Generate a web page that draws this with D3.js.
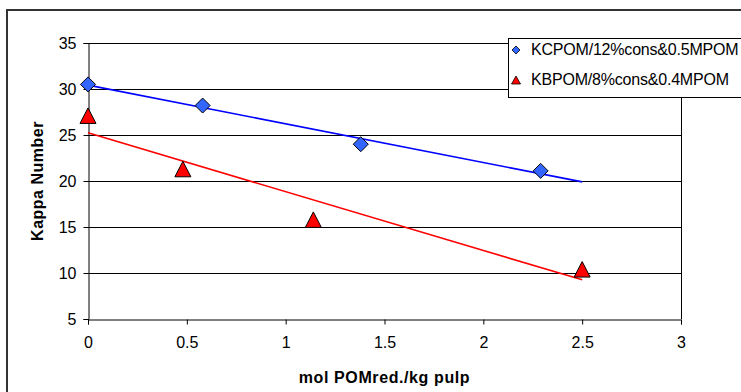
<!DOCTYPE html>
<html>
<head>
<meta charset="utf-8">
<script src="https://cdn.jsdelivr.net/npm/d3@7"></script>
<style>
	body { margin: 0; background: #fff; }
	svg { display: block; font-family: "Liberation Sans", Arial, sans-serif; }
</style>
</head>
<body>
<svg id="chart" width="741" height="392"></svg>
<script>
// data
var seriesNames = ["KCPOM/12%cons&0.5MPOM", "KBPOM/8%cons&0.4MPOM"];
var kcX = [0, 0.58, 1.38, 2.29];
var kcY = [30.5, 28.2, 24.0, 21.1];
var kbX = [0, 0.48, 1.14, 2.5];
var kbY = [27.1, 21.3, 15.8, 10.4];
var xTicks = [0, 0.5, 1, 1.5, 2, 2.5, 3];
var yTicks = [5, 10, 15, 20, 25, 30, 35];
var trendEnd = 2.5; // both trend lines run out to 2.5

var svg = d3.select("#chart");
var plotLeft = 88, plotRight = 681, plotTop = 43, plotBottom = 319;

var x = d3.scaleLinear().domain([0, 3]).range([plotLeft, plotRight]);
var y = d3.scaleLinear().domain([5, 35]).range([plotBottom, plotTop]);

// outer chart frame
svg.append("rect")
	.attr("x", 7).attr("y", 10)
	.attr("width", 760).attr("height", 400)
	.attr("fill", "#fff").attr("stroke", "#333").attr("stroke-width", 2);

// horizontal gridlines
svg.append("g").selectAll("line")
	.data(yTicks.slice(1))
	.enter().append("line")
	.attr("x1", plotLeft).attr("x2", plotRight)
	.attr("y1", function(d){ return Math.round(y(d)) + 0.5; })
	.attr("y2", function(d){ return Math.round(y(d)) + 0.5; })
	.attr("stroke", "#000").attr("stroke-width", 1);

// right border of the plot
svg.append("line")
	.attr("x1", plotRight + 0.5).attr("x2", plotRight + 0.5)
	.attr("y1", plotTop).attr("y2", plotBottom)
	.attr("stroke", "#000");

// axes
var xAxis = svg.append("g")
	.attr("transform", "translate(0," + (plotBottom + 0.5) + ")")
	.call(d3.axisBottom(x).tickValues(xTicks).tickSize(5).tickPadding(12)
		.tickFormat(function(d){ return String(d); }));
var yAxis = svg.append("g")
	.attr("transform", "translate(" + (plotLeft + 0.5) + ",0)")
	.call(d3.axisLeft(y).tickValues(yTicks).tickSize(5).tickPadding(7)
		.tickFormat(function(d){ return String(d); }));

[xAxis, yAxis].forEach(function(a){
	a.select(".domain").attr("stroke", "#000");
	a.selectAll(".tick line").attr("stroke", "#000");
	a.selectAll("text").attr("fill", "#000")
		.style("font-size", "16px")
		.style("font-family", "'Liberation Sans', Arial, sans-serif");
});
yAxis.selectAll(".tick text").attr("dy", "0.36em");

// axis titles
svg.append("text")
	.attr("x", (plotLeft + plotRight) / 2).attr("y", 383)
	.attr("text-anchor", "middle")
	.style("font-size", "16px").style("font-weight", "bold")
	.style("letter-spacing", "0.6px")
	.text("mol POMred./kg pulp");

svg.append("text")
	.attr("transform", "translate(43," + ((plotTop + plotBottom) / 2) + ") rotate(-90)")
	.attr("text-anchor", "middle")
	.style("font-size", "16px").style("font-weight", "bold")
	.style("letter-spacing", "0.5px")
	.text("Kappa Number");

// linear trend lines (least squares, like the spreadsheet trendline)
function fit(xs, ys){
	var mx = d3.mean(xs), my = d3.mean(ys), sxy = 0, sxx = 0;
	xs.forEach(function(v, i){ sxy += (v - mx) * (ys[i] - my); sxx += (v - mx) * (v - mx); });
	var slope = sxy / sxx;
	return function(v){ return my + slope * (v - mx); };
}

var series = [
	{ name: seriesNames[0], xs: kcX, ys: kcY, line: "#0000ff", fill: "#3366ff", shape: "diamond" },
	{ name: seriesNames[1], xs: kbX, ys: kbY, line: "#ff0000", fill: "#ff0000", shape: "triangle" }
];

series.forEach(function(s){
	var f = fit(s.xs, s.ys);
	svg.append("line")
		.attr("x1", x(0)).attr("y1", y(f(0)))
		.attr("x2", x(trendEnd)).attr("y2", y(f(trendEnd)))
		.attr("stroke", s.line).attr("stroke-width", 1.6);
});

function markerPath(s, big){
	if (s.shape === "diamond") {
		var r = big ? 7.5 : 4;
		return "M0," + (-r) + "L" + r + ",0L0," + r + "L" + (-r) + ",0Z";
	}
	var w = big ? 8 : 4.5, h = big ? 15.5 : 8;
	return "M0," + (-h / 2) + "L" + w + "," + (h / 2) + "L" + (-w) + "," + (h / 2) + "Z";
}

series.forEach(function(s){
	svg.append("g").selectAll("path")
		.data(s.xs.map(function(v, i){ return [v, s.ys[i]]; }))
		.enter().append("path")
		.attr("transform", function(d){ return "translate(" + x(d[0]) + "," + y(d[1]) + ")"; })
		.attr("d", markerPath(s, true))
		.attr("fill", s.fill).attr("stroke", "#000").attr("stroke-width", 1);
});

// legend
var legend = svg.append("g");
legend.append("rect")
	.attr("x", 508.5).attr("y", 38.5)
	.attr("width", 260).attr("height", 59)
	.attr("fill", "#fff").attr("stroke", "#000");

series.forEach(function(s, i){
	var ly = 50 + i * 30;
	legend.append("path")
		.attr("transform", "translate(516," + ly + ")")
		.attr("d", markerPath(s, false))
		.attr("fill", s.fill).attr("stroke", "#000").attr("stroke-width", 0.8);
	legend.append("text")
		.attr("x", 531).attr("y", ly + 4.5)
		.style("font-size", "16px")
		.style("letter-spacing", "-0.2px")
		.text(s.name);
});
</script>
</body>
</html>
